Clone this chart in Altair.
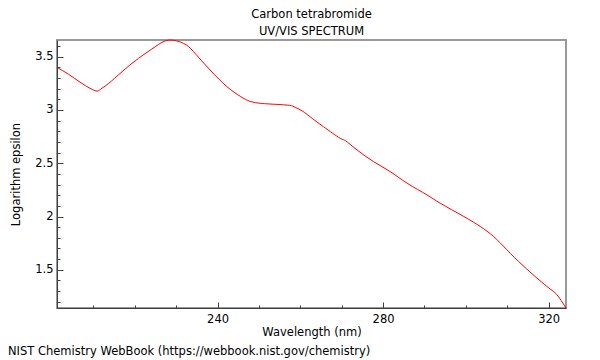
import altair as alt
import pandas as pd

# ---- data ----
wavelength_nm = [201.2, 204.0, 207.2, 210.4, 211.7, 213.7, 216.9, 220.9, 224.9, 228.2,
                 231.8, 234.2, 238.2, 242.3, 245.5, 247.9, 250.3, 252.7, 256.8, 258.5,
                 260.5, 262.4, 265.6, 269.6, 270.9, 273.7, 277.7, 281.7, 285.8, 290.6,
                 293.8, 299.5, 303.5, 306.7, 309.9, 314.0, 319.6, 322.0, 324.2]
log_epsilon = [3.400, 3.335, 3.250, 3.181, 3.194, 3.250, 3.359, 3.485, 3.593, 3.656,
               3.625, 3.547, 3.375, 3.218, 3.128, 3.080, 3.063, 3.056, 3.046, 3.030,
               2.990, 2.935, 2.843, 2.735, 2.712, 2.625, 2.515, 2.422, 2.313, 2.203,
               2.125, 2.000, 1.906, 1.812, 1.688, 1.532, 1.343, 1.266, 1.141]

x_domain = [201.2, 324.2]
y_domain = [1.141, 3.657]
x_major = [240, 280, 320]
x_minor = [210, 220, 230, 250, 260, 270, 290, 300, 310]
y_major = [1.5, 2, 2.5, 3, 3.5]
y_minor = [1.2, 1.3, 1.4, 1.6, 1.7, 1.8, 1.9, 2.1, 2.2, 2.3, 2.4,
           2.6, 2.7, 2.8, 2.9, 3.1, 3.2, 3.3, 3.4, 3.6]

title_lines = ["Carbon tetrabromide", "UV/VIS SPECTRUM"]
x_title = "Wavelength (nm)"
y_title = "Logarithm epsilon"
footer = ["NIST Chemistry WebBook (https://webbook.nist.gov/chemistry)"]

df = pd.DataFrame({"wl": wavelength_nm, "le": log_epsilon})
foot_df = pd.DataFrame({"t": footer})

FONT = "DejaVu Sans"
FS = 11.5
DARK = "#404040"

xs = alt.Scale(domain=x_domain, nice=False, zero=False)
ys = alt.Scale(domain=y_domain, nice=False, zero=False)

# main axes: domain, labels, titles
x_main = alt.Axis(orient="bottom", values=x_major, ticks=False, grid=False,
                  domainColor=DARK, labelFont=FONT, labelFontSize=FS, labelColor="black",
                  labelPadding=5, format="d", title=x_title, titleFont=FONT,
                  titleFontSize=FS, titleFontWeight="normal", titleColor="black",
                  titlePadding=2)
y_main = alt.Axis(orient="left", values=y_major, ticks=False, grid=False,
                  domainColor=DARK, labelFont=FONT, labelFontSize=FS, labelColor="black",
                  labelPadding=4, format="~g", title=y_title, titleFont=FONT,
                  titleFontSize=FS, titleFontWeight="normal", titleColor="black",
                  titlePadding=13)

def tick_axis(orient, vals, size):
    return alt.Axis(orient=orient, values=vals, ticks=True, tickSize=size,
                    tickColor=DARK, labels=False, domain=False, grid=False,
                    title=None, offset=-size)

line = alt.Chart(df).mark_line(color="#ff0000", strokeWidth=1,
                               interpolate="natural").encode(
    x=alt.X("wl:Q", scale=xs, axis=x_main),
    y=alt.Y("le:Q", scale=ys, axis=y_main),
)

major = alt.Chart(df).mark_point(opacity=0).encode(
    x=alt.X("wl:Q", scale=xs, axis=tick_axis("bottom", x_major, 6)),
    y=alt.Y("le:Q", scale=ys, axis=tick_axis("left", y_major, 6)),
)

minor = alt.Chart(df).mark_point(opacity=0).encode(
    x=alt.X("wl:Q", scale=xs, axis=tick_axis("bottom", x_minor, 3)),
    y=alt.Y("le:Q", scale=ys, axis=tick_axis("left", y_minor, 3)),
)

foot = alt.Chart(foot_df).mark_text(align="left", baseline="middle", font=FONT,
                                    fontSize=FS, color="black").encode(
    x=alt.value(-49), y=alt.value(312), text="t:N")

chart = alt.layer(line, major, minor, foot).resolve_axis(
    x="independent", y="independent"
).properties(
    width=509, height=268,
    title=alt.TitleParams(text=title_lines, font=FONT, fontSize=FS,
                          fontWeight="normal", color="black", anchor="middle",
                          lineHeight=17, offset=0),
    autosize=alt.AutoSizeParams(type="none"),
    padding={"left": 49, "top": 32, "right": 18, "bottom": 52},
).configure_view(stroke="#999999", strokeWidth=2)

chart.save("out.html", embed_options={"renderer": "svg", "actions": False})
